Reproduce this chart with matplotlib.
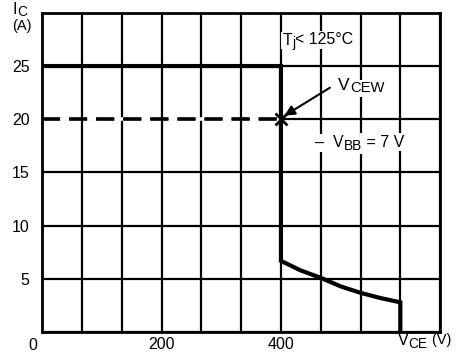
import numpy as np
import matplotlib.pyplot as plt

plt.rcParams['font.family'] = ['Liberation Sans', 'DejaVu Sans']

# safe operating boundary (V, A)
vce_soa = [0, 400, 400, 433, 467, 500, 533, 567, 600, 600]
ic_soa = [25, 25, 6.7, 5.8, 5.1, 4.3, 3.7, 3.2, 2.8, 0]

# V_CEW line
vce_w = [0, 400]
ic_w = [20, 20]

x_grid = np.arange(11) * 200 / 3
y_ticks = [0, 5, 10, 15, 20, 25, 30]
y_labels = ['', '5', '10', '15', '20', '25', '']

fig = plt.figure(figsize=(4.58, 3.56), dpi=100)
ax = fig.add_axes([0.092, 0.067, 0.869, 0.897])
ax.set_xlim(0, 2000 / 3)
ax.set_ylim(0, 30)

ax.set_xticks(x_grid)
ax.set_xticklabels([''] * len(x_grid))
ax.set_yticks(y_ticks)
ax.set_yticklabels(y_labels, fontsize=11.5)
ax.tick_params(length=0, pad=9)
ax.grid(True, color='black', linewidth=1.6)
for s in ax.spines.values():
    s.set_linewidth(2)

ax.plot(vce_soa, ic_soa, color='black', linewidth=3, solid_joinstyle='miter')
ax.plot(vce_w, ic_w, color='black', linewidth=2.6, dashes=(5, 2.5), gapcolor='white', zorder=3)
ax.plot([400], [20], marker='x', color='black', markersize=8, markeredgewidth=2, zorder=4)

ax.annotate('', xy=(402, 20.2), xytext=(486, 23.1),
            arrowprops=dict(arrowstyle='-|>', color='black', lw=1.5, mutation_scale=15))

box = dict(facecolor='white', edgecolor='none', pad=1)


def sub_text(x, y, main, sub, after='', size=12, bg=True, clip=True):
    bb = box if bg else None
    t = ax.text(x, y, main, fontsize=size, ha='left', va='center', bbox=bb,
                zorder=5, clip_on=clip)
    s = ax.annotate(sub, xy=(1, 0.3), xycoords=t, fontsize=size * 0.85,
                    ha='left', va='center', bbox=bb, zorder=7, annotation_clip=False)
    if after:
        ax.annotate(after, xy=(1, 0.75), xycoords=s, fontsize=size * 0.9 if not bg else size,
                    ha='left', va='center', bbox=bb, zorder=6, annotation_clip=False)
    return t


sub_text(402, 27.4, 'T', 'j', '< 125°C', size=11.5)
sub_text(496, 23.2, 'V', 'CEW', size=12.5)
sub_text(457, 17.8, '\u2013  V', 'BB', ' = 7 V', size=11.5)

# axis labels / ticks as text
ax.text(200, -1.2, '200', fontsize=11.5, ha='center', va='center')
ax.text(400, -1.2, '400', fontsize=11.5, ha='center', va='center')
ax.text(-15, -1.3, '0', fontsize=11.5, ha='center', va='center', clip_on=False)
sub_text(596, -0.8, 'V', 'CE', ' (V)', size=11.5, bg=False, clip=False)
sub_text(-50, 30.35, 'I', 'C', size=11.5, bg=False, clip=False)
ax.text(-50, 28.75, '(A)', fontsize=10.5, ha='left', va='center')

fig.savefig('out.png', dpi=100)
